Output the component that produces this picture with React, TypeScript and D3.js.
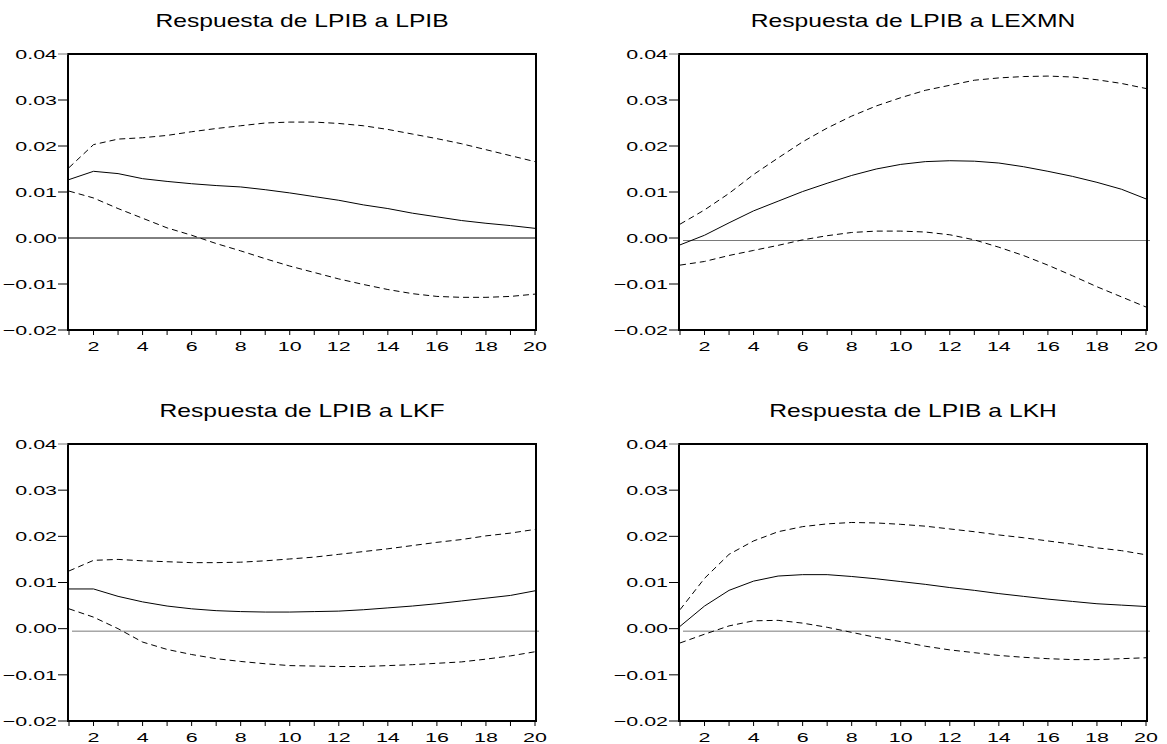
import React from "react";
import * as d3 from "d3";

const periods: number[] = d3.range(1, 21);
const yTicks: number[] = [0.04, 0.03, 0.02, 0.01, 0.0, -0.01, -0.02];
const xTickLabels: number[] = [2, 4, 6, 8, 10, 12, 14, 16, 18, 20];

const titles: string[] = [
  "Respuesta de LPIB a LPIB",
  "Respuesta de LPIB a LEXMN",
  "Respuesta de LPIB a LKF",
  "Respuesta de LPIB a LKH",
];

// Response of LPIB to LPIB
const lpibResp = [0.0127, 0.0145, 0.014, 0.0129, 0.0123, 0.0118, 0.0114, 0.0111, 0.0105, 0.0098, 0.009, 0.0082, 0.0072, 0.0064, 0.0054, 0.0046, 0.0038, 0.0032, 0.0027, 0.0021];
const lpibUpper = [0.0153, 0.0203, 0.0215, 0.0218, 0.0223, 0.0231, 0.0238, 0.0244, 0.025, 0.0252, 0.0252, 0.0249, 0.0244, 0.0236, 0.0226, 0.0216, 0.0205, 0.0192, 0.0179, 0.0166];
const lpibLower = [0.0102, 0.0087, 0.0064, 0.0043, 0.0022, 0.0006, -0.0012, -0.0028, -0.0045, -0.0061, -0.0075, -0.0089, -0.0101, -0.0112, -0.0121, -0.0127, -0.0129, -0.0129, -0.0127, -0.0122];

// Response of LPIB to LEXMN
const lexmnResp = [-0.0015, 0.0006, 0.0033, 0.0059, 0.008, 0.0101, 0.0119, 0.0136, 0.015, 0.016, 0.0166, 0.0168, 0.0167, 0.0163, 0.0155, 0.0145, 0.0134, 0.0121, 0.0106, 0.0085];
const lexmnUpper = [0.003, 0.0061, 0.0097, 0.0138, 0.0174, 0.0209, 0.0239, 0.0265, 0.0287, 0.0305, 0.0321, 0.0332, 0.0343, 0.0348, 0.0351, 0.0352, 0.035, 0.0344, 0.0336, 0.0325];
const lexmnLower = [-0.0059, -0.0051, -0.0038, -0.0027, -0.0016, -0.0004, 0.0005, 0.0012, 0.0015, 0.0015, 0.0013, 0.0007, -0.0004, -0.002, -0.0038, -0.0059, -0.0082, -0.0106, -0.0128, -0.015];

// Response of LPIB to LKF
const lkfResp = [0.0086, 0.0086, 0.007, 0.0058, 0.0049, 0.0043, 0.0039, 0.0037, 0.0036, 0.0036, 0.0037, 0.0038, 0.0041, 0.0045, 0.0049, 0.0054, 0.006, 0.0066, 0.0072, 0.0082];
const lkfUpper = [0.0125, 0.0148, 0.015, 0.0147, 0.0145, 0.0143, 0.0143, 0.0144, 0.0147, 0.0151, 0.0155, 0.0161, 0.0167, 0.0173, 0.018, 0.0187, 0.0193, 0.0201, 0.0207, 0.0215];
const lkfLower = [0.0043, 0.0025, 0.0, -0.0029, -0.0045, -0.0056, -0.0065, -0.0071, -0.0076, -0.008, -0.0081, -0.0082, -0.0082, -0.008, -0.0078, -0.0075, -0.0072, -0.0066, -0.0059, -0.005];

// Response of LPIB to LKH
const lkhResp = [0.0005, 0.0049, 0.0083, 0.0103, 0.0114, 0.0117, 0.0117, 0.0113, 0.0108, 0.0102, 0.0096, 0.0089, 0.0083, 0.0076, 0.007, 0.0064, 0.0059, 0.0054, 0.0051, 0.0048];
const lkhUpper = [0.0041, 0.0109, 0.0161, 0.019, 0.021, 0.0221, 0.0227, 0.023, 0.0229, 0.0226, 0.0222, 0.0216, 0.021, 0.0203, 0.0197, 0.019, 0.0183, 0.0175, 0.0169, 0.016];
const lkhLower = [-0.0031, -0.0012, 0.0006, 0.0017, 0.0018, 0.0012, 0.0003, -0.0008, -0.0019, -0.0028, -0.0038, -0.0046, -0.0052, -0.0058, -0.0062, -0.0065, -0.0067, -0.0067, -0.0065, -0.0063];

const panelsData = [
  { resp: lpibResp, upper: lpibUpper, lower: lpibLower },
  { resp: lexmnResp, upper: lexmnUpper, lower: lexmnLower },
  { resp: lkfResp, upper: lkfUpper, lower: lkfLower },
  { resp: lkhResp, upper: lkhUpper, lower: lkhLower },
];

const W = 1167;
const H = 744;
const FONT = "'Liberation Sans', Arial, Helvetica, sans-serif";

const frames = [
  { left: 68, right: 536, top: 54, bottom: 330 },
  { left: 679, right: 1147, top: 54, bottom: 330 },
  { left: 68, right: 536, top: 444, bottom: 721 },
  { left: 679, right: 1147, top: 444, bottom: 721 },
];

function Panel({ idx }: { idx: number }) {
  const f = frames[idx];
  const d = panelsData[idx];
  const x = d3.scaleLinear().domain([1, 20]).range([f.left + 1, f.right - 1]);
  const y = d3.scaleLinear().domain([-0.02, 0.04]).range([f.bottom, f.top]);
  const line = d3
    .line<number>()
    .x((_, i) => x(periods[i]))
    .y((v) => y(v));
  const fmt = d3.format(".2f");
  const cx = (f.left + f.right) / 2;
  const zeroBlack = idx === 0;
  return (
    <g>
      <g transform={`translate(${cx},${f.top - 27}) scale(1.37,1)`}>
        <text x={0} y={0} textAnchor="middle" fontFamily={FONT} fontSize={18} fill="#000">
          {titles[idx]}
        </text>
      </g>
      {zeroBlack ? (
        <line x1={f.left} x2={f.right} y1={y(0)} y2={y(0)} stroke="#000" strokeWidth={1} />
      ) : (
        <line x1={f.left + 4} x2={f.right + 3} y1={y(0) + 2.5} y2={y(0) + 2.5} stroke="#7a7a7a" strokeWidth={1} />
      )}
      <path d={line(d.upper) || ""} fill="none" stroke="#000" strokeWidth={1} strokeDasharray="6,4" />
      <path d={line(d.lower) || ""} fill="none" stroke="#000" strokeWidth={1} strokeDasharray="6,4" />
      <path d={line(d.resp) || ""} fill="none" stroke="#000" strokeWidth={1} />
      <rect x={f.left} y={f.top} width={f.right - f.left} height={f.bottom - f.top} fill="none" stroke="#000" strokeWidth={2} />
      {yTicks.map((t) => (
        <g key={"y" + t}>
          <line x1={f.left - 10} x2={f.left} y1={y(t)} y2={y(t)} stroke={t === 0.04 ? "#777" : "#000"} strokeWidth={1} />
          <g transform={`translate(${f.left - 11},${y(t)}) scale(1.65,1)`}>
            <text x={0} y={0} dy="0.36em" textAnchor="end" fontFamily={FONT} fontSize={13} fill="#000">
              {fmt(t)}
            </text>
          </g>
        </g>
      ))}
      {periods.map((p) => (
        <line key={"xt" + p} x1={x(p)} x2={x(p)} y1={f.bottom} y2={f.bottom + 5} stroke="#000" strokeWidth={1} />
      ))}
      {xTickLabels.map((p) => (
        <g key={"xl" + p} transform={`translate(${x(p)},${f.bottom + 21.3}) scale(1.65,1)`}>
          <text x={0} y={0} textAnchor="middle" fontFamily={FONT} fontSize={13} fill="#000">
            {p}
          </text>
        </g>
      ))}
    </g>
  );
}

export default function App() {
  return (
    <svg
      width={W}
      height={H}
      viewBox={`0 0 ${W} ${H}`}
      style={{ position: "absolute", left: 0, top: 0, background: "#fff" }}
    >
      <rect x={0} y={0} width={W} height={H} fill="#fff" />
      {[0, 1, 2, 3].map((i) => (
        <Panel key={i} idx={i} />
      ))}
    </svg>
  );
}
